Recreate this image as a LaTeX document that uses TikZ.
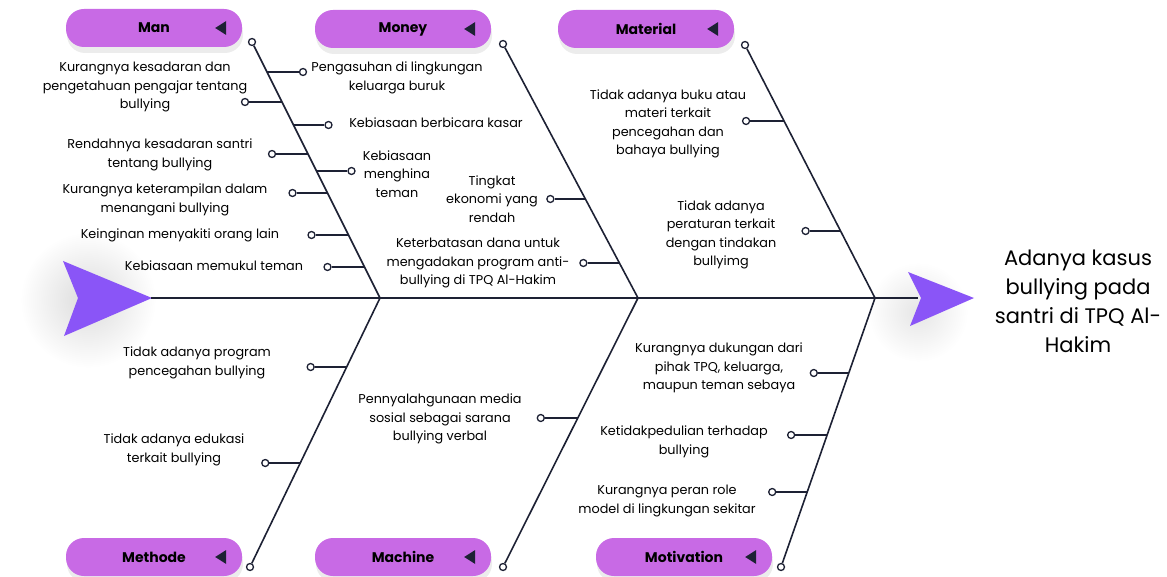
\documentclass[tikz,border=0pt]{standalone}
\usepackage{fontspec}
\setmainfont{Poppins}
\usetikzlibrary{calc,shadows}

\definecolor{navy}{HTML}{1D2134}
\definecolor{pill}{HTML}{C86AE5}
\definecolor{violet}{HTML}{8A55F7}

\tikzset{
  bone/.style={navy, line width=1.6pt},
  dot/.style={circle, draw=navy, fill=white, line width=1.3pt, inner sep=0pt, minimum size=7pt},
  cause/.style={align=center, inner sep=0pt, font=\fontsize{12.8}{18.5}\selectfont},
  category/.style={fill=pill, rounded corners=18pt, minimum width=176pt, minimum height=38pt,
    font=\bfseries\fontsize{14}{16}\selectfont,
    drop shadow={opacity=.15, shadow xshift=1pt, shadow yshift=-6pt}},
}

\begin{document}
\begin{tikzpicture}[x=1pt, y=-1pt]
  \useasboundingbox (0,0) rectangle (1167,577);

  % soft shadows behind the arrow heads
  \shade[inner color=black!14, outer color=white] (88,300) circle (68);
  \shade[inner color=black!10, outer color=white] (918,312) circle (50);

  % head and tail
  \fill[violet] (63,261) -- (152,298) -- (64,336) -- (78,298) -- cycle;
  \fill[violet] (908,272) -- (974,298) -- (910,326) -- (921,298) -- cycle;

  % spine
  \coordinate (tail) at (151,298);
  \coordinate (head) at (918,298);
  \coordinate (j1) at (380,298);
  \coordinate (j2) at (638,298);
  \coordinate (j3) at (875,298);
  \draw[bone] (tail) -- (head);

  % ends of the bones
  \coordinate (manTop) at (252,42);
  \coordinate (moneyTop) at (503,44);
  \coordinate (matTop) at (745,45);
  \coordinate (methBot) at (250,567);
  \coordinate (machBot) at (503,567);
  \coordinate (motBot) at (781,567);
  \foreach \e in {manTop,moneyTop,matTop,methBot,machBot,motBot} {
    \node[dot] (\e-d) at (\e) {};
  }
  \draw[bone] (manTop-d) -- (j1);
  \draw[bone] (moneyTop-d) -- (j2);
  \draw[bone] (matTop-d) -- (j3);
  \draw[bone] (methBot-d) -- (j1);
  \draw[bone] (machBot-d) -- (j2);
  \draw[bone] (motBot-d) -- (j3);

  % ribs: bone end / joint / y of end / y of rib / length
  \foreach \b/\j/\yt/\r/\dx [count=\i] in {
      manTop/j1/42/72/36, manTop/j1/42/102/-37, manTop/j1/42/125/35, manTop/j1/42/154/-36,
      manTop/j1/42/171/35, manTop/j1/42/193/-35, manTop/j1/42/235/-37, manTop/j1/42/267/-37,
      moneyTop/j2/44/199/-35, moneyTop/j2/44/263/-36,
      matTop/j3/45/121/-38, matTop/j3/45/231/-35,
      methBot/j1/567/367/-36, methBot/j1/567/463/-35,
      machBot/j2/567/418/-37,
      motBot/j3/567/373/-35, motBot/j3/567/435/-36, motBot/j3/567/492/-35} {
    \coordinate (rb\i) at ($(\b)!{(\r-\yt)/(298-\yt)}!(\j)$);
    \node[dot] (rd\i) at ($(rb\i)+(\dx,0)$) {};
    \draw[bone] (rb\i) -- (rd\i);
  }

  % categories
  \node[category] (man) at (154,28) {Man};
  \node[category] (money) at (403,29) {Money};
  \node[category] (material) at (646,29) {Material};
  \node[category] (methode) at (154,557) {Methode};
  \node[category] (machine) at (403,557) {Machine};
  \node[category] (motivation) at (684,557) {Motivation};
  \foreach \c in {man,money,material,methode,machine,motivation} {
    \fill[navy] ($(\c.east)+(-27,0)$) -- ++(11,-7) -- ++(0,14) -- cycle;
  }

  % causes
  \node[cause] (c1) at (397,78) {Pengasuhan di lingkungan\\keluarga buruk};
  \node[cause] (c2) at (145,87) {Kurangnya kesadaran dan\\pengetahuan pengajar tentang\\bullying};
  \node[cause] (c3) at (436,123) {Kebiasaan berbicara kasar};
  \node[cause] (c4) at (160,155) {Rendahnya kesadaran santri\\tentang bullying};
  \node[cause] (c5) at (397,174) {Kebiasaan\\menghina\\teman};
  \node[cause] (c6) at (165,200) {Kurangnya keterampilan dalam\\menangani bullying};
  \node[cause] (c7) at (180,235) {Keinginan menyakiti orang lain};
  \node[cause] (c8) at (214,266) {Kebiasaan memukul teman};
  \node[cause] (c9) at (492,199) {Tingkat\\ekonomi yang\\rendah};
  \node[cause] (c10) at (478,263) {Keterbatasan dana untuk\\mengadakan program anti-\\bullying di TPQ Al-Hakim};
  \node[cause] (c11) at (668,124) {Tidak adanya buku atau\\materi terkait\\pencegahan dan\\bahaya bullying};
  \node[cause] (c12) at (721,235) {Tidak adanya\\peraturan terkait\\dengan tindakan\\bullyimg};
  \node[cause] (c13) at (197,363) {Tidak adanya program\\pencegahan bullying};
  \node[cause] (c14) at (174,450) {Tidak adanya edukasi\\terkait bullying};
  \node[cause] (c15) at (440,419) {Pennyalahgunaan media\\sosial sebagai sarana\\bullying verbal};
  \node[cause] (c16) at (719,368) {Kurangnya dukungan dari\\pihak TPQ, keluarga,\\maupun teman sebaya};
  \node[cause] (c17) at (684,442) {Ketidakpedulian terhadap\\bullying};
  \node[cause] (c18) at (667,501) {Kurangnya peran role\\model di lingkungan sekitar};

  % effect
  \node[align=center, font=\fontsize{21}{29}\selectfont] (effect) at (1078,301)
    {Adanya kasus\\bullying pada\\santri di TPQ Al-\\Hakim};
\end{tikzpicture}
\end{document}
